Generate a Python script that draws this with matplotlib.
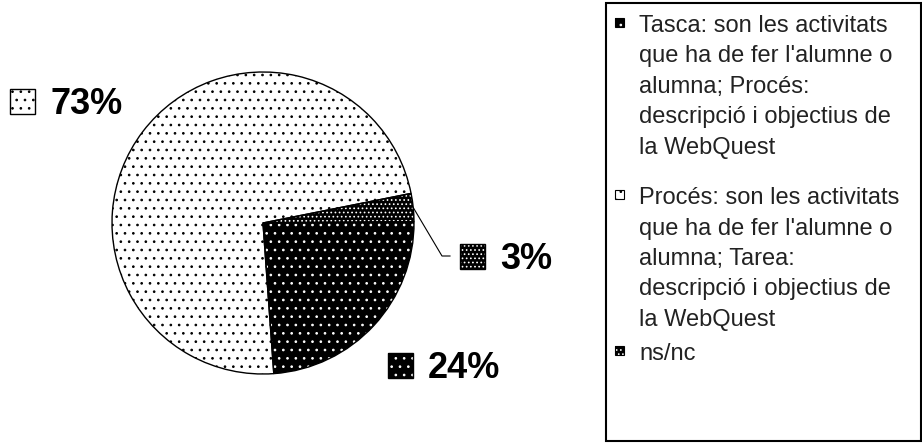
import matplotlib.pyplot as plt
from matplotlib.patches import Rectangle
import numpy as np

plt.rcParams['font.family'] = ['Liberation Sans', 'DejaVu Sans']
plt.rcParams['hatch.linewidth'] = 0.7

# data
categories = ["Tasca: son les activitats\nque ha de fer l'alumne o\nalumna; Procés:\ndescripció i objectius de\nla WebQuest",
              "Procés: son les activitats\nque ha de fer l'alumne o\nalumna; Tarea:\ndescripció i objectius de\nla WebQuest",
              "ns/nc"]
shares = [24, 73, 3]

# styles: face, dot colour, hatch
faces = ['black', 'white', 'black']
dots = ['white', 'black', 'white']
hatches = ['..', '..', '....']

W, H = 922, 444
cx, cy, r = 263, 221, 151

fig = plt.figure(figsize=(W / 100, H / 100), dpi=100)
ax = fig.add_axes([0, 0, 1, 1])

wedges, _ = ax.pie(shares, colors=faces, startangle=0.5, counterclock=False,
                   center=(cx, cy), radius=r, wedgeprops=dict(linewidth=0))
for w, h, c in zip(wedges, hatches, dots):
    w.set_hatch(h)
    w.set_edgecolor(c)
# outline
ax.pie(shares, startangle=0.5, counterclock=False, center=(cx, cy), radius=r,
       wedgeprops=dict(fill=False, edgecolor='black', linewidth=1))

# percent labels: icon left x, baseline y
lab_pos = [(388, 66), (10, 330), (460, 175)]
for i, (x, y) in enumerate(lab_pos):
    ax.add_patch(Rectangle((x, y), 25, 25, facecolor=faces[i], edgecolor=dots[i],
                           hatch=hatches[i], linewidth=0))
    ax.add_patch(Rectangle((x, y), 25, 25, fill=False, edgecolor='black', linewidth=1))
    ax.text(x + 40, y, f"{shares[i]}%", fontsize=26, fontweight='bold', va='baseline')

# leader line for the small slice
w = wedges[2]
mid = np.deg2rad((w.theta1 + w.theta2) / 2)
x0, y0 = cx + r * np.cos(mid), cy + r * np.sin(mid)
lx, ly = lab_pos[2]
ax.plot([x0, lx - 18, lx - 10], [y0, ly + 13, ly + 13], color='black', lw=0.8)

# legend box
ax.add_patch(Rectangle((606, 3), 315, 438, fill=False, edgecolor='black', linewidth=1.5))
base = [411, 239, 83]
for i, lab in enumerate(categories):
    ax.add_patch(Rectangle((615, base[i] + 6), 9, 9, facecolor=faces[i], edgecolor=dots[i],
                           hatch=hatches[i], linewidth=0))
    ax.add_patch(Rectangle((615, base[i] + 6), 9, 9, fill=False, edgecolor='black', linewidth=0.8))
    ax.text(639, base[i] + 18, lab, fontsize=17, va='top', linespacing=1.5, color='#222222')

ax.set_xlim(0, W)
ax.set_ylim(0, H)
ax.set_aspect('auto')
ax.axis('off')

fig.savefig('out.png', dpi=100)
